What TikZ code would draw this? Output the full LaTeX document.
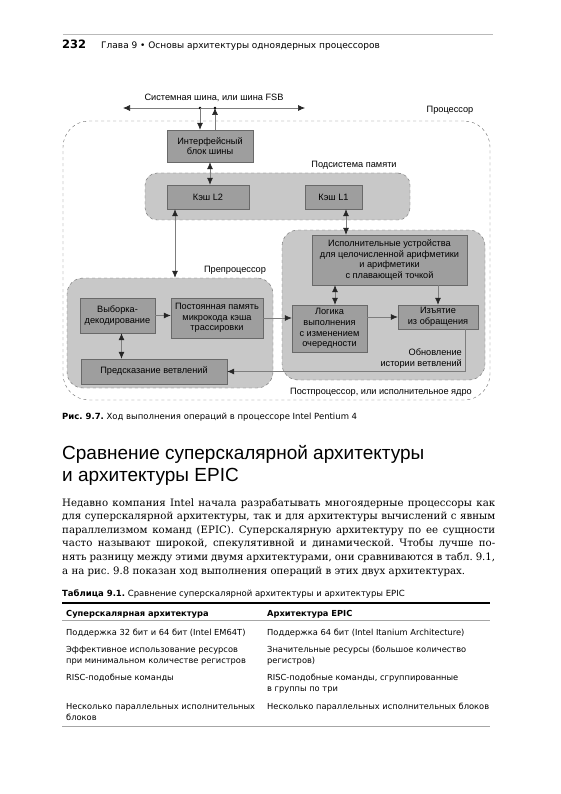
\documentclass[tikz,border=0pt]{standalone}
\usepackage{fontspec}
\setmainfont{DejaVu Serif}
\setsansfont{DejaVu Sans}
\newfontfamily\diagfont{Liberation Sans}
\newfontfamily\headfont{Liberation Sans}
\usetikzlibrary{arrows.meta}
\definecolor{boxgray}{RGB}{158,158,158}
\definecolor{zonegray}{RGB}{200,200,200}
\definecolor{linegray}{RGB}{125,125,125}
\definecolor{framegray}{RGB}{105,105,105}
\frenchspacing

\tikzset{
  unit/.style={draw=framegray, fill=boxgray, inner sep=0pt, align=center,
               font=\diagfont\fontsize{9.2}{10.6}\selectfont},
  zone/.style={draw=framegray, dashed, fill=zonegray, rounded corners=12pt},
  lbl/.style={inner sep=0pt, align=center, font=\diagfont\fontsize{9.2}{11}\selectfont},
  flow/.style={draw=linegray, line width=0.7pt, ->},
  flowboth/.style={draw=linegray, line width=0.7pt, <->},
  pagetext/.style={inner sep=0pt, anchor=base west, align=left},
  cell/.style={pagetext, font=\sffamily\fontsize{8.3}{11}\selectfont},
}

\begin{document}
\begin{tikzpicture}[x=1pt, y=-1pt, >={Latex[length=7pt,width=6pt,color=black!85]}]
        \fill[white] (0,0) rectangle (560,794);
        \useasboundingbox (0,0) rectangle (560,794);

        % page head
        \draw[gray!55, line width=0.6pt] (63,34) -- (493,34);
        \node[pagetext, font=\sffamily\bfseries\fontsize{11.5}{13}\selectfont] (pagenum) at (62,49) {232};
        \node[pagetext, font=\sffamily\fontsize{9}{11}\selectfont] (runhead) at (101,49)
            {Глава 9 \textbullet{} Основы архитектуры одноядерных процессоров};

        % processor frame and zones
        \node[draw=framegray, dashed, rounded corners=26pt, minimum width=427pt, minimum height=279pt] (cpu) at (276.5,260.5) {};
        \node[zone, minimum width=265pt, minimum height=47pt] (mem) at (277.5,196.5) {};
        \node[zone, minimum width=206pt, minimum height=110pt, rounded corners=16pt] (pre) at (170,333) {};
        \node[zone, minimum width=203pt, minimum height=150pt, rounded corners=16pt] (post) at (383.5,305) {};

        % units
        \node[unit, minimum width=86pt, minimum height=32pt] (ifc) at (210,146) {Интерфейсный\\блок шины};
        \node[unit, minimum width=82pt, minimum height=24pt] (ltwo) at (208,197) {Кэш L2};
        \node[unit, minimum width=57pt, minimum height=24pt] (lone) at (333.5,197) {Кэш L1};
        \node[unit, minimum width=155pt, minimum height=50pt] (exec) at (389.5,260)
            {Исполнительные устройства\\для целочисленной арифметики\\и арифметики\\с плавающей точкой};
        \node[unit, minimum width=75pt, minimum height=35pt] (fetch) at (117.5,315.5) {Выборка-\\декодирование};
        \node[unit, minimum width=92pt, minimum height=40pt] (ucode) at (217,318) {Постоянная память\\микрокода кэша\\трассировки};
        \node[unit, minimum width=146pt, minimum height=25pt] (bpred) at (154,371.5) {Предсказание ветвлений};
        \node[unit, minimum width=75pt, minimum height=47pt] (logic) at (329.5,328.5) {Логика\\выполнения\\с изменением\\очередности};
        \node[unit, minimum width=80pt, minimum height=24pt] (retire) at (438,317) {Изъятие\\из обращения};

        % labels
        \node[lbl] (buslbl) at (214,98) {Системная шина, или шина FSB};
        \node[lbl] (cpulbl) at (450,110) {Процессор};
        \node[lbl] (memlbl) at (354,165) {Подсистема памяти};
        \node[lbl] (prelbl) at (235,270) {Препроцессор};
        \node[lbl] (postlbl) at (381,392) {Постпроцессор, или исполнительное ядро};
        \node[lbl, align=right, anchor=east] (histlbl) at (462,359) {Обновление\\истории ветвлений};

        % bus
        \coordinate (busL) at (123,108);
        \coordinate (busR) at (305,108);
        \coordinate (tapA) at (200,108);
        \coordinate (tapB) at (215,108);
        \draw[flowboth] (busL) -- (busR);
        \fill[black] (tapA) circle (1.4pt) (tapB) circle (1.4pt);
        \draw[flow] (tapA) -- (tapA |- ifc.north);
        \draw[flow] (tapB |- ifc.north) -- (tapB);

        % connections
        \draw[flowboth] (ifc.south) -- (ifc.south |- ltwo.north);
        \draw[flowboth] ([xshift=-33pt]ltwo.south) -- ([xshift=-33pt]ltwo.south |- pre.north);
        \draw[flowboth] ([xshift=12.5pt]lone.south) -- ([xshift=12.5pt]lone.south |- exec.north);
        \draw[flow] (fetch.east) -- (fetch.east -| ucode.west);
        \draw[flowboth] ([xshift=4pt]fetch.south) -- ([xshift=4pt]fetch.south |- bpred.north);
        \draw[flow] (ucode.east) -- (ucode.east -| logic.west);
        \draw[flowboth] ([xshift=5.5pt]logic.north) -- ([xshift=5.5pt]logic.north |- exec.south);
        \draw[flow] (retire.north |- exec.south) -- (retire.north);
        \draw[flow] (retire.west -| logic.east) -- (retire.west);
        \draw[flow] ([xshift=-13pt]retire.south east) |- (bpred.east);

        % caption and section
        \node[pagetext, font=\sffamily\fontsize{8.5}{10}\selectfont] (figcap) at (62,419)
            {\textbf{Рис. 9.7.} Ход выполнения операций в процессоре Intel Pentium 4};
        \node[pagetext, font=\headfont\fontsize{19}{22}\selectfont] (heading) at (62,481)
            {Сравнение суперскалярной архитектуры\\и архитектуры EPIC};
        \node[inner sep=0pt, anchor=base west, text width=433pt, align=justify,
              font=\fontsize{10.2}{13.6}\selectfont] (para) at (62,506)
            {Недавно компания Intel начала разрабатывать многоядерные процессоры как\linebreak
             для суперскалярной архитектуры, так и для архитектуры вычислений с явным\linebreak
             параллелизмом команд (EPIC). Суперскалярную архитектуру по ее сущности\linebreak
             часто называют широкой, спекулятивной и динамической. Чтобы лучше по-\linebreak
             нять разницу между этими двумя архитектурами, они сравниваются в табл.~9.1,\linebreak
             а на рис.~9.8 показан ход выполнения операций в этих двух архитектурах.};

        % table
        \node[pagetext, font=\sffamily\fontsize{8.5}{10}\selectfont] (tabcap) at (62,596)
            {\textbf{Таблица 9.1.} Сравнение суперскалярной архитектуры и архитектуры EPIC};
        \draw[black, line width=1.5pt] (62,603) -- (490,603);
        \draw[gray!70, line width=0.6pt] (62,620) -- (490,620);
        \draw[gray!70, line width=0.6pt] (62,726) -- (490,726);
        \node[cell, font=\sffamily\bfseries\fontsize{8.3}{11}\selectfont] (headA) at (66,616) {Суперскалярная архитектура};
        \node[cell, font=\sffamily\bfseries\fontsize{8.3}{11}\selectfont] (headB) at (267,616) {Архитектура EPIC};
        \node[cell] (rowA1) at (66,635) {Поддержка 32 бит и 64 бит (Intel EM64T)};
        \node[cell] (rowB1) at (267,635) {Поддержка 64 бит (Intel Itanium Architecture)};
        \node[cell] (rowA2) at (66,663) {Эффективное использование ресурсов\\при минимальном количестве регистров};
        \node[cell] (rowB2) at (267,663) {Значительные ресурсы (большое количество\\регистров)};
        \node[cell] (rowA3) at (66,680) {RISC-подобные команды};
        \node[cell] (rowB3) at (267,691) {RISC-подобные команды, сгруппированные\\в группы по три};
        \node[cell] (rowA4) at (66,720) {Несколько параллельных исполнительных\\блоков};
        \node[cell] (rowB4) at (267,709) {Несколько параллельных исполнительных блоков};
    \end{tikzpicture}
\end{document}
